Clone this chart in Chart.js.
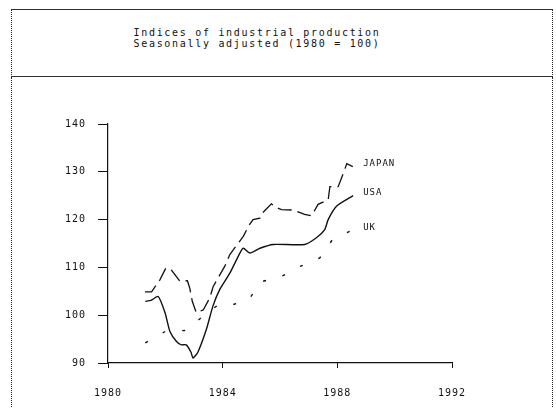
<!DOCTYPE html>
<html>
<head>
<meta charset="utf-8">
<script src="https://cdn.jsdelivr.net/npm/chart.js@4"></script>
<style>
  html, body { margin: 0; padding: 0; background: #fff; }
  body { width: 556px; height: 408px; position: relative; overflow: hidden; font-family: 'DejaVu Sans Mono', monospace; }
  #titleBox { position: absolute; left: 11px; top: 9px; width: 540px; height: 66px; border-top: 1px solid #333; border-bottom: 1px solid #333; border-left: 1px dotted #222; border-right: 1px dotted #222; }
  #plotBox { position: absolute; left: 11px; top: 77px; width: 540px; height: 340px; border-left: 1px dotted #222; border-right: 1px dotted #222; }
  #title { position: absolute; left: 0; top: 27px; width: 514px; text-align: center; font-size: 10px; line-height: 11px; letter-spacing: 1.7px; color: #111; }
  #wrap { position: absolute; left: 0; top: 77px; width: 556px; height: 331px; }
</style>
</head>
<body>
<div id="titleBox"></div>
<div id="plotBox"></div>
<div id="title">Indices of industrial production<br>Seasonally adjusted (1980 = 100)</div>
<div id="wrap"><canvas id="grafico" width="556" height="331"></canvas></div>
<script>
// values (decimal years)
const usaYears = [1981.3, 1981.5, 1981.75, 1981.99, 1982.16, 1982.39, 1982.56, 1982.73, 1982.9, 1982.96, 1983.13, 1983.43, 1983.66, 1983.9, 1984.25, 1984.6, 1984.72, 1984.95, 1985.3, 1985.76, 1986.86, 1987.27, 1987.56, 1987.68, 1987.97, 1988.55];
const usaValues = [102.9, 103.1, 103.9, 100.5, 96.6, 94.5, 93.8, 93.8, 92.2, 91.05, 92.2, 97, 101.9, 105.4, 108.8, 113, 114, 113, 114, 114.8, 114.8, 116.2, 117.9, 120, 122.8, 125];

const japanYears = [1981.29, 1981.52, 1981.81, 1982.02, 1982.22, 1982.51, 1982.77, 1982.85, 1982.94, 1983.08, 1983.32, 1983.55, 1983.67, 1984.07, 1984.25, 1984.72, 1984.92, 1985.06, 1985.3, 1985.39, 1985.7, 1985.88, 1986.05, 1986.46, 1986.86, 1987.1, 1987.33, 1987.68, 1987.74, 1988.03, 1988.19, 1988.33, 1988.54];
const japanValues = [104.9, 104.9, 107.4, 109.9, 109.4, 107.1, 107.2, 105.7, 102.9, 100.5, 101.1, 103.6, 106, 110.2, 112.7, 116.5, 118.8, 120, 120.3, 121.4, 123.3, 122.5, 122.1, 122, 121.1, 120.8, 123.2, 124.1, 126.9, 126.9, 129.4, 131.7, 131.1];

const ukYears = [1981.3, 1982.0, 1982.7, 1983.3, 1983.85, 1984.35, 1984.9, 1985.35, 1986.05, 1986.7, 1987.39, 1987.85, 1988.5];
const ukValues = [94.2, 96.6, 96.8, 99.7, 102.2, 102.2, 103.2, 107, 108.1, 110.2, 112, 116, 117.7];

const seriesNames = ['JAPAN', 'USA', 'UK'];
const labelYear = 1988.9;
const labelValues = [131.7, 125.7, 118.3];

const xTicks = [1980, 1984, 1988, 1992];
const yTicks = [90, 100, 110, 120, 130, 140];

const toPoints = (xs, ys) => xs.map((x, i) => ({ x: x, y: ys[i] }));

const seriesLabels = {
  id: 'seriesLabels',
  beforeDraw(chart) {
    chart.ctx.letterSpacing = '1px';
  },
  afterDatasetsDraw(chart) {
    const ctx = chart.ctx;
    const xs = chart.scales.x;
    const ys = chart.scales.y;
    ctx.save();
    ctx.fillStyle = '#111';
    ctx.font = '9px "DejaVu Sans Mono"';
    ctx.textBaseline = 'middle';
    ctx.textAlign = 'left';
    seriesNames.forEach((name, i) => {
      ctx.fillText(name, xs.getPixelForValue(labelYear), ys.getPixelForValue(labelValues[i]));
    });
    ctx.restore();
  }
};

const ctx = document.getElementById('grafico').getContext('2d');
new Chart(ctx, {
  type: 'line',
  data: {
    datasets: [
      {
        label: 'JAPAN',
        data: toPoints(japanYears, japanValues),
        borderColor: '#111',
        borderWidth: 1.3,
        borderDash: [14, 6],
        pointRadius: 0,
        tension: 0,
        fill: false
      },
      {
        label: 'USA',
        data: toPoints(usaYears, usaValues),
        borderColor: '#111',
        borderWidth: 1.4,
        pointRadius: 0,
        tension: 0.2,
        fill: false
      },
      {
        label: 'UK',
        data: toPoints(ukYears, ukValues),
        borderColor: '#111',
        borderWidth: 1.4,
        borderDash: [3, 17],
        pointRadius: 0,
        tension: 0,
        fill: false
      }
    ]
  },
  options: {
    responsive: false,
    animation: false,
    layout: { padding: { left: 0, top: 47, right: 104, bottom: 0 } },
    plugins: {
      legend: { display: false },
      tooltip: { enabled: false },
      title: { display: false }
    },
    scales: {
      x: {
        type: 'linear',
        min: 1980,
        max: 1992,
        afterFit: axis => { axis.height = 45; },
        afterBuildTicks: axis => { axis.ticks = xTicks.map(v => ({ value: v })); },
        grid: { drawOnChartArea: false, drawTicks: true, tickLength: 5, color: '#111' },
        border: { display: true, color: '#111', width: 1.2 },
        ticks: {
          color: '#111',
          padding: 19,
          maxRotation: 0,
          font: { family: 'DejaVu Sans Mono', size: 10 },
          callback: v => String(v)
        }
      },
      y: {
        min: 90,
        max: 140,
        afterFit: axis => { axis.width = 108; },
        afterBuildTicks: axis => { axis.ticks = yTicks.map(v => ({ value: v })); },
        grid: { drawOnChartArea: false, drawTicks: true, tickLength: 10, color: '#111' },
        border: { display: true, color: '#111', width: 1.2 },
        ticks: {
          color: '#111',
          padding: 12,
          font: { family: 'DejaVu Sans Mono', size: 10 },
          callback: v => String(v)
        }
      }
    }
  },
  plugins: [seriesLabels]
});
</script>
</body>
</html>
